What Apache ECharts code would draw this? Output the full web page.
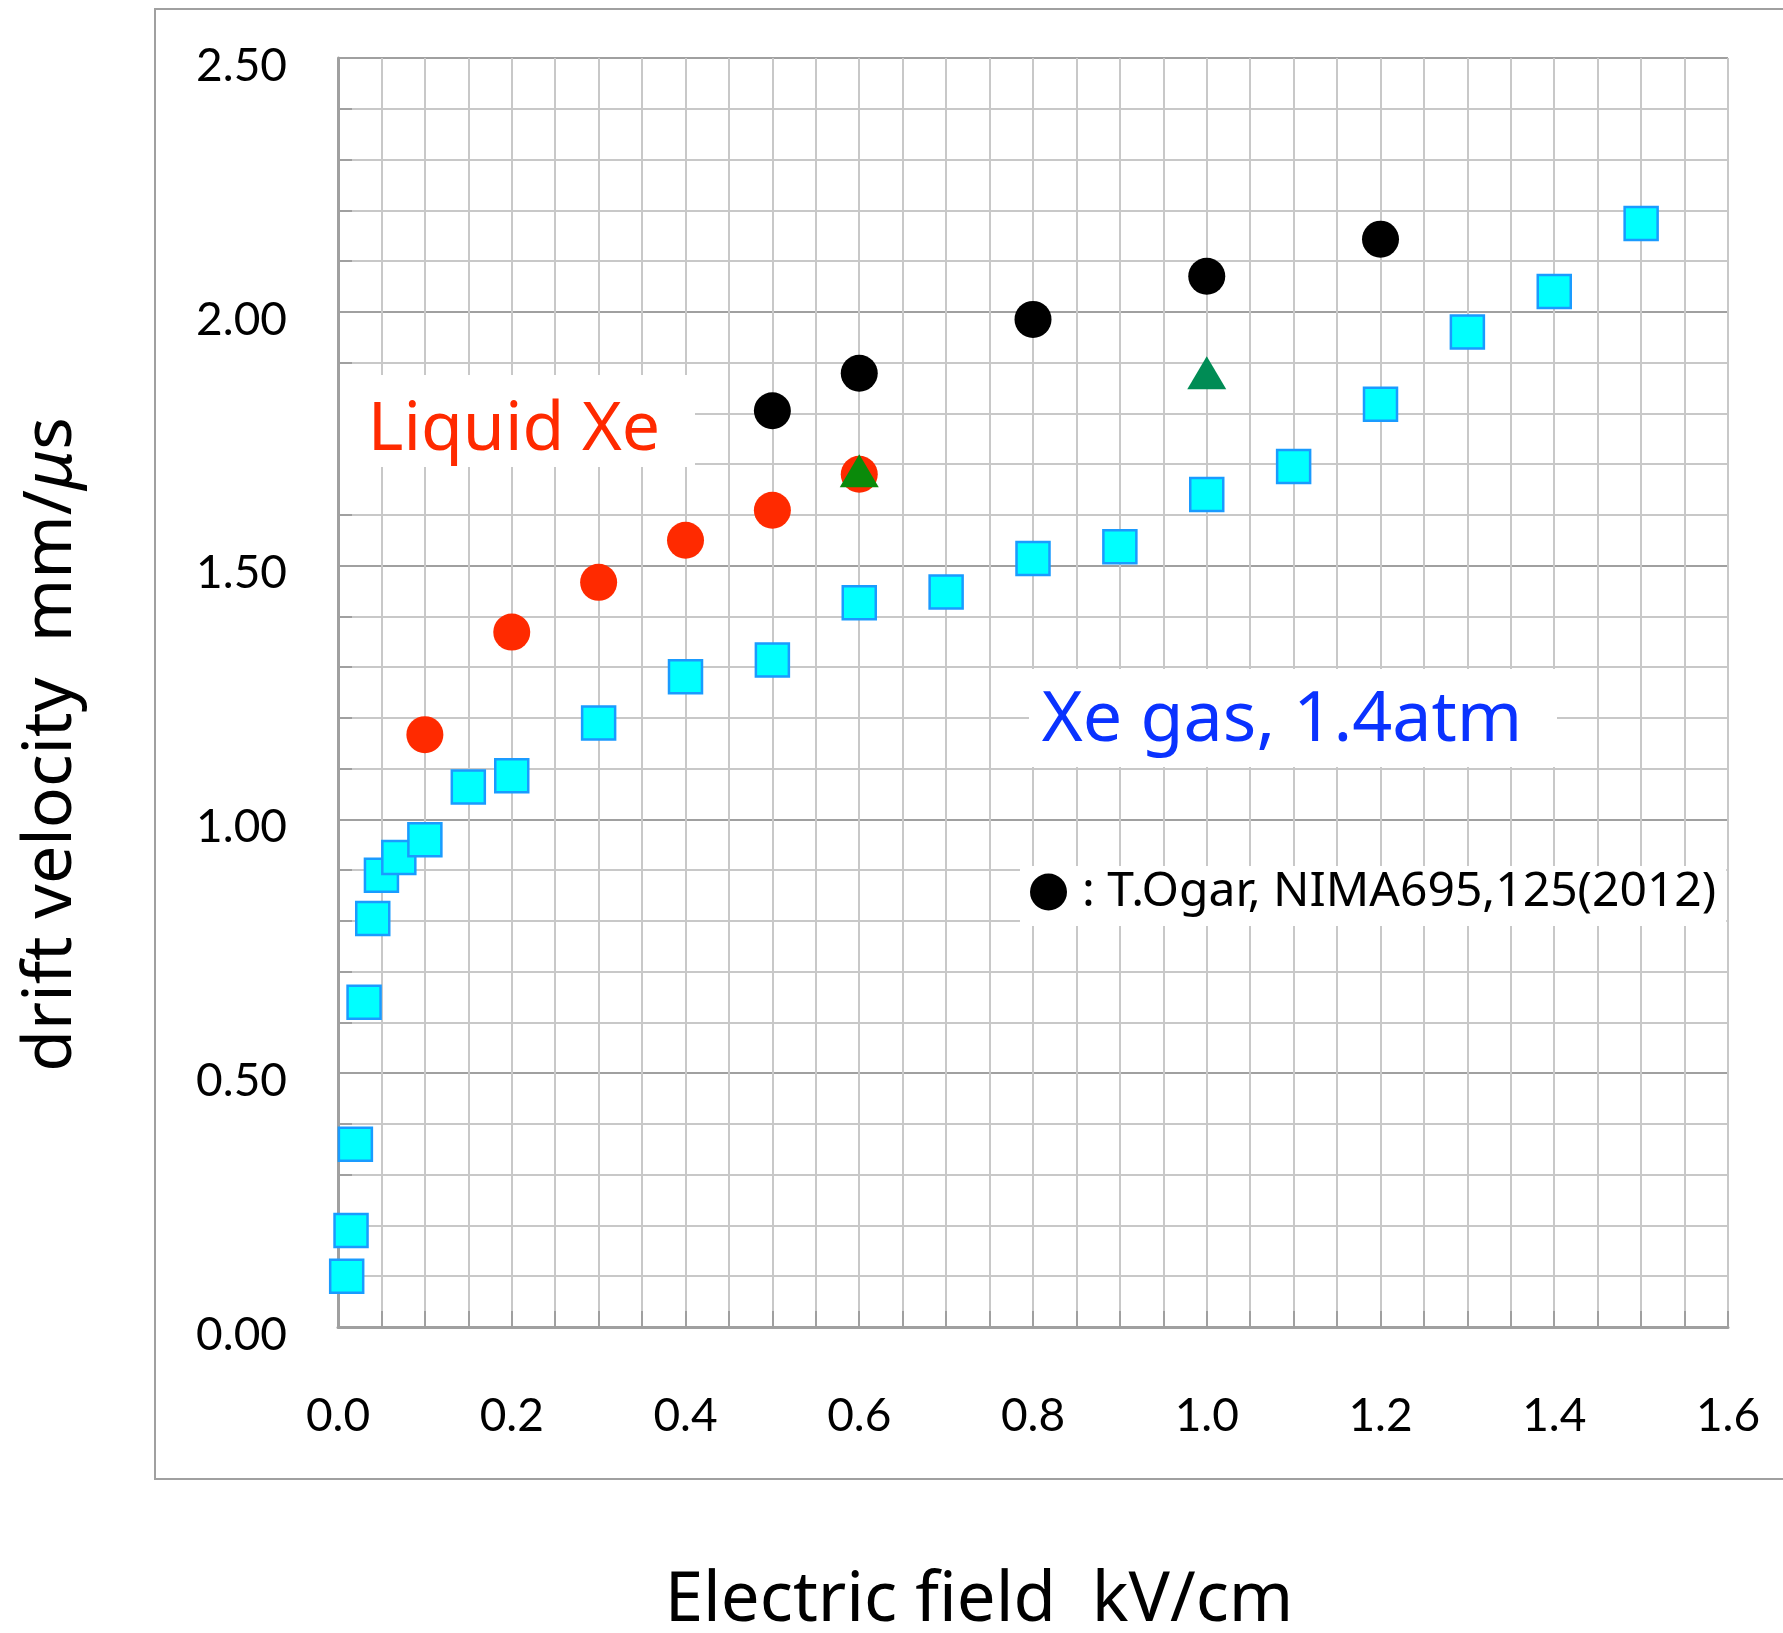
<!DOCTYPE html>
<html>
<head>
<meta charset="utf-8">
<script src="https://cdn.jsdelivr.net/npm/echarts@6/dist/echarts.min.js"></script>
<style>
  html, body { margin: 0; padding: 0; background: #fff; }
  #chart { width: 1783px; height: 1633px; }
</style>
</head>
<body>
<div id="chart"></div>
<script>
// Xe gas at 1.4 atm: electric field (kV/cm) and drift velocity (mm/us)
const gasField    = [0.01, 0.015, 0.02, 0.03, 0.04, 0.05, 0.07, 0.1, 0.15, 0.2, 0.3, 0.4, 0.5, 0.6, 0.7, 0.8, 0.9, 1.0, 1.1, 1.2, 1.3, 1.4, 1.5];
const gasVelocity = [0.10, 0.19, 0.36, 0.64, 0.805, 0.89, 0.925, 0.96, 1.064, 1.086, 1.19, 1.281, 1.314, 1.427, 1.448, 1.514, 1.537, 1.640, 1.695, 1.818, 1.960, 2.040, 2.174];

// Liquid Xe
const liquidField    = [0.1, 0.2, 0.3, 0.4, 0.5, 0.6];
const liquidVelocity = [1.167, 1.369, 1.467, 1.550, 1.609, 1.680];

// T.Ogar, NIMA695,125(2012)
const ogarField    = [0.5, 0.6, 0.8, 1.0, 1.2];
const ogarVelocity = [1.805, 1.879, 1.985, 2.070, 2.143];

// additional liquid Xe points (triangles)
const triField    = [0.6, 1.0];
const triVelocity = [1.687, 1.880];

const pairs = (xs, ys) => xs.map((x, i) => [x, ys[i]]);

const tickFont  = 'Lato, "Noto Sans", sans-serif';
const titleFont = '"Noto Sans", "DejaVu Sans", sans-serif';
const lightGrid = '#c8c8c8';
const darkGrid  = '#a0a0a0';
const triColors = ['#0a8a0a', '#008c55'];

const chart = echarts.init(document.getElementById('chart'), null, { renderer: 'canvas' });

const option = {
  backgroundColor: '#ffffff',
  animation: false,
  grid: { left: 338, top: 58, width: 1390, height: 1269, containLabel: false, outerBoundsMode: 'none' },
  xAxis: {
    type: 'value',
    min: 0, max: 1.6, interval: 0.2,
    name: 'Electric field  kV/cm',
    nameLocation: 'middle',
    nameGap: 240,
    nameTextStyle: { fontFamily: titleFont, fontSize: 69, color: '#000', padding: [0, 108, 0, 0] },
    axisLine: { show: true, onZero: false, lineStyle: { color: darkGrid, width: 3 } },
    axisTick: { show: true, inside: true, length: 16, lineStyle: { color: darkGrid, width: 2 } },
    minorTick: { show: true, splitNumber: 4, length: 16, lineStyle: { color: darkGrid, width: 2 } },
    axisLabel: { margin: 66, fontFamily: tickFont, fontSize: 46, color: '#000', formatter: v => v.toFixed(1) },
    splitLine: { show: true, lineStyle: { color: lightGrid, width: 2 } },
    minorSplitLine: { show: true, lineStyle: { color: lightGrid, width: 2 } }
  },
  yAxis: {
    type: 'value',
    min: 0, max: 2.5, interval: 0.5,
    name: 'drift velocity  mm/{mu|μ}s',
    nameLocation: 'middle',
    nameRotate: 90,
    nameGap: 252,
    nameTextStyle: {
      fontFamily: titleFont, fontSize: 68, color: '#000', padding: [0, 104, 0, 0],
      rich: { mu: { fontFamily: titleFont, fontSize: 68, fontStyle: 'italic', color: '#000' } }
    },
    axisLine: { show: true, lineStyle: { color: darkGrid, width: 3 } },
    axisTick: { show: true, inside: true, length: 14, lineStyle: { color: darkGrid, width: 2 } },
    minorTick: { show: true, splitNumber: 5, length: 14, lineStyle: { color: darkGrid, width: 2 } },
    axisLabel: {
      margin: 51, fontFamily: tickFont, fontSize: 46, color: '#000',
      verticalAlign: 'top', lineHeight: 16,
      formatter: v => v.toFixed(2)
    },
    splitLine: { show: true, lineStyle: { color: darkGrid, width: 2 } },
    minorSplitLine: { show: true, lineStyle: { color: lightGrid, width: 2 } }
  },
  legend: {
    data: ['T.Ogar, NIMA695,125(2012)'],
    left: 1020, top: 866,
    orient: 'horizontal',
    icon: 'circle',
    itemWidth: 37, itemHeight: 37,
    backgroundColor: '#ffffff',
    padding: [2, 10, 10, 10],
    formatter: ': {name}',
    selectedMode: false,
    z: 10,
    textStyle: { fontFamily: titleFont, fontSize: 48, lineHeight: 37, color: '#000', padding: [0, 0, 0, 10] }
  },
  graphic: [
    // outer frame
    { type: 'rect', silent: true, z: 0,
      shape: { x: 155, y: 9, width: 1700, height: 1470 },
      style: { fill: 'none', stroke: darkGrid, lineWidth: 2 } },
    // "Liquid Xe" annotation
    { type: 'rect', silent: true, z: 50,
      shape: { x: 340, y: 375, width: 355, height: 92 },
      style: { fill: '#ffffff' } },
    { type: 'text', silent: true, z: 51, x: 514, y: 431,
      style: { text: 'Liquid Xe', fill: '#ff2a00', fontFamily: '"Noto Sans"', fontSize: 68,
               align: 'center', verticalAlign: 'middle' } },
    // "Xe gas, 1.4atm" annotation
    { type: 'rect', silent: true, z: 50,
      shape: { x: 1029, y: 669, width: 528, height: 98 },
      style: { fill: '#ffffff' } },
    { type: 'text', silent: true, z: 51, x: 1282, y: 721,
      style: { text: 'Xe gas, 1.4atm', fill: '#0a32ff', fontFamily: '"Noto Sans"', fontSize: 70,
               align: 'center', verticalAlign: 'middle' } }
  ],
  series: [
    {
      name: 'Xe gas, 1.4atm', type: 'scatter', z: 3,
      data: pairs(gasField, gasVelocity),
      symbol: 'rect', symbolSize: 33,
      itemStyle: { color: '#00ffff', borderColor: '#1a9bff', borderWidth: 2.5, opacity: 1 }
    },
    {
      name: 'Liquid Xe', type: 'scatter', z: 4,
      data: pairs(liquidField, liquidVelocity),
      symbol: 'circle', symbolSize: 37,
      itemStyle: { color: '#ff2a00', opacity: 1 }
    },
    {
      name: 'T.Ogar, NIMA695,125(2012)', type: 'scatter', z: 5,
      data: pairs(ogarField, ogarVelocity),
      symbol: 'circle', symbolSize: 37,
      itemStyle: { color: '#000000', opacity: 1 }
    },
    {
      name: 'Liquid Xe, other', type: 'scatter', z: 6,
      data: pairs(triField, triVelocity),
      symbol: 'triangle', symbolSize: [39, 33],
      itemStyle: { color: p => triColors[p.dataIndex], opacity: 1 }
    }
  ]
};

chart.setOption(option);
</script>
</body>
</html>
